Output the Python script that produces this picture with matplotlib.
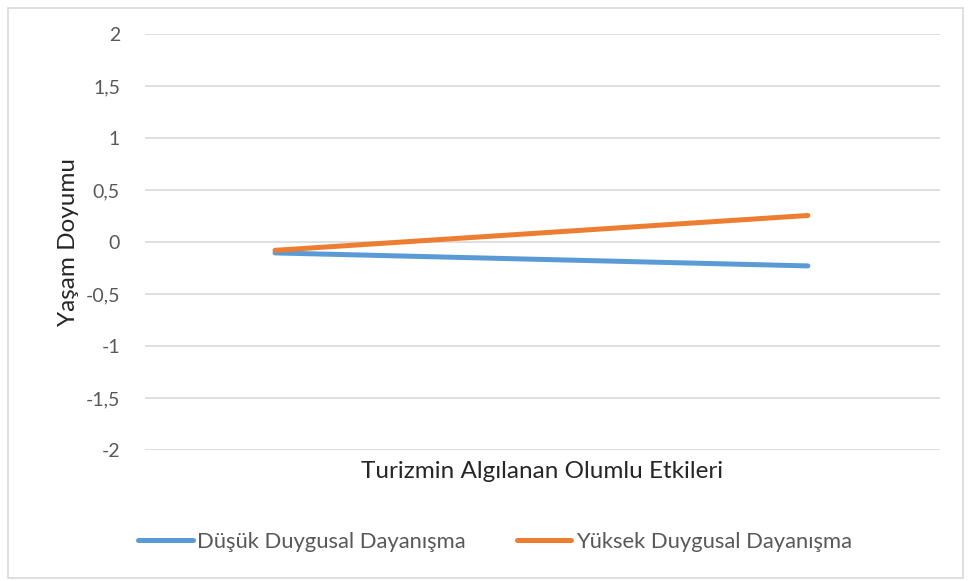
import matplotlib
matplotlib.use("Agg")
import matplotlib.pyplot as plt
from matplotlib.patches import Rectangle

plt.rcParams['font.family'] = ['Lato', 'DejaVu Sans']

categories = ["Düşük", "Yüksek"]
series_names = ["Düşük Duygusal Dayanışma", "Yüksek Duygusal Dayanışma"]
low_values = [-0.105, -0.23]
high_values = [-0.08, 0.255]
y_ticks = [-2, -1.5, -1, -0.5, 0, 0.5, 1, 1.5, 2]
y_tick_labels = ["-2", "-1,5", "-1", "-0,5", "0", "0,5", "1", "1,5", "2"]
x_label = "Turizmin Algılanan Olumlu Etkileri"
y_label = "Yaşam Doyumu"

fig = plt.figure(figsize=(9.7, 5.81), dpi=100)
fig.patches.append(Rectangle((8/970, 3/581), 955/970, 570/581, transform=fig.transFigure,
                             fill=False, edgecolor='#d9d9d9', linewidth=1.2))

ax = fig.add_axes([145/970, 131/581, 795/970, 416/581])
xs = list(range(len(categories)))
ax.plot(xs, low_values, color='#5b9bd5', linewidth=3.6, solid_capstyle='round', label=series_names[0])
ax.plot(xs, high_values, color='#ed7d31', linewidth=3.6, solid_capstyle='round', label=series_names[1])

ax.set_xlim(-0.244, 1.248)
ax.set_ylim(-2, 2)
ax.set_yticks(y_ticks)
ax.set_yticklabels(y_tick_labels)
ax.set_xticks([])
ax.tick_params(axis='y', length=0, pad=18, labelsize=14, labelcolor='#595959')
ax.grid(axis='y', color='#d9d9d9', linewidth=1.2)
ax.set_axisbelow(True)
for s in ax.spines.values():
    s.set_visible(False)

ax.set_xlabel(x_label, fontsize=17.5, color='#262626', labelpad=8)
ax.set_ylabel(y_label, fontsize=17.5, color='#262626', labelpad=5)

fig.legend(loc='center', bbox_to_anchor=(495/970, 39/581), ncol=2, frameon=False,
           fontsize=15.8, handlelength=2.5, handletextpad=0.2, columnspacing=2.3,
           labelcolor='#595959')

fig.savefig("out.png", dpi=100)
